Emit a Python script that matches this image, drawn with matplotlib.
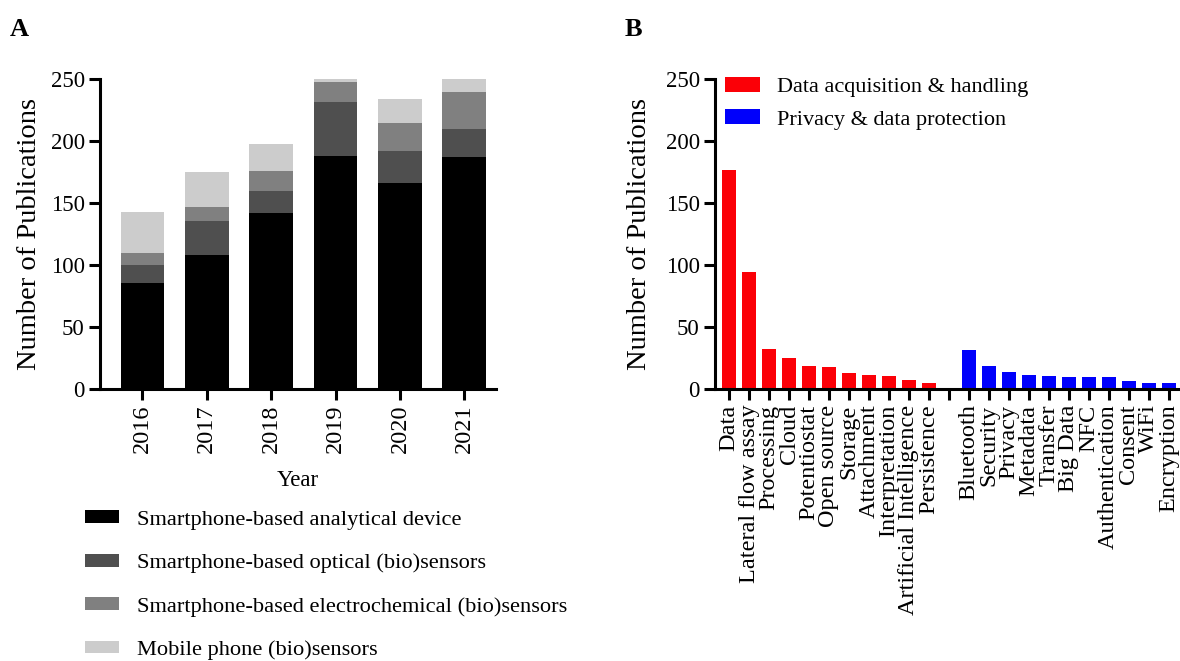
import matplotlib
matplotlib.use("Agg")
import matplotlib.pyplot as plt
from matplotlib.patches import Patch
import numpy as np

plt.rcParams['font.family'] = ['Liberation Serif', 'DejaVu Serif']

# Panel A data: stacked publications per year
years = ["2016", "2017", "2018", "2019", "2020", "2021"]
analytical = [86, 108, 142, 188, 166, 187]
optical = [14, 28, 18, 44, 26, 23]
electrochem = [10, 11, 16, 16, 23, 30]
mobile = [33, 28, 22, 2, 19, 10]
series_names = ["Smartphone-based analytical device",
                "Smartphone-based optical (bio)sensors",
                "Smartphone-based electrochemical (bio)sensors",
                "Mobile phone (bio)sensors"]

# Panel B data: keyword counts
data_terms = ["Data", "Lateral flow assay", "Processing", "Cloud", "Potentiostat",
              "Open source", "Storage", "Attachment", "Interpretation",
              "Artificial Intelligence", "Persistence"]
data_counts = [177, 94.5, 32.5, 25.3, 18.8, 18, 13, 11.5, 10.7, 7.5, 5]
privacy_terms = ["Bluetooth", "Security", "Privacy", "Metadata", "Transfer",
                 "Big Data", "NFC", "Authentication", "Consent", "WiFi", "Encryption"]
privacy_counts = [31.7, 18.8, 14, 11.5, 10.7, 10, 10, 10, 6.7, 5, 5]

grey_colors = ["#000000", "#4f4f4f", "#808080", "#cccccc"]

fig = plt.figure(figsize=(11.8, 6.61), dpi=100)

def style_axis(ax):
    for side in ["top", "right"]:
        ax.spines[side].set_visible(False)
    for side in ["left", "bottom"]:
        ax.spines[side].set_linewidth(2.2)
    ax.tick_params(axis="both", width=2.2, length=8, labelsize=16.5, pad=3)
    ax.tick_params(axis="x", labelsize=17.5)
    ax.set_ylim(0, 250)
    ax.set_yticks(np.arange(0, 251, 50))

# ---- Panel A ----
axA = fig.add_axes([0.0847, 0.411, 0.336, 0.469])
x = np.arange(len(years))
bottom = np.zeros(len(years))
for vals, col in zip([analytical, optical, electrochem, mobile], grey_colors):
    axA.bar(x, vals, width=0.68, bottom=bottom, color=col, linewidth=0)
    bottom += np.array(vals)
style_axis(axA)
axA.set_xlim(-0.66, 5.5)
axA.set_xticks(x)
axA.set_xticklabels(years, rotation=90)
axA.set_xlabel("Year", fontsize=16.5, labelpad=12)
axA.set_ylabel("Number of Publications", fontsize=20.5, labelpad=6)

handlesA = [Patch(facecolor=c, edgecolor="none") for c in grey_colors]
fig.legend(handlesA, series_names, loc="upper left", bbox_to_anchor=(0.072, 0.228),
           frameon=False, fontsize=16.1, handlelength=1.52, handleheight=0.51,
           handletextpad=0.8, labelspacing=1.06, borderaxespad=0, borderpad=0)

# ---- Panel B ----
axB = fig.add_axes([0.606, 0.411, 0.392, 0.469])
all_terms = data_terms + [""] + privacy_terms
nb = len(all_terms)
xb = np.arange(nb)
xr = xb[:len(data_terms)]
xbl = xb[len(data_terms) + 1:]
axB.bar(xr, data_counts, width=0.7, color="#fb0007", linewidth=0,
        label="Data acquisition & handling")
axB.bar(xbl, privacy_counts, width=0.7, color="#0000fb", linewidth=0,
        label="Privacy & data protection")
style_axis(axB)
axB.set_xlim(-0.7, nb - 0.55)
axB.set_xticks(xb)
axB.set_xticklabels(all_terms, rotation=90)
axB.set_ylabel("Number of Publications", fontsize=20.5, labelpad=10)
axB.legend(loc="upper left", bbox_to_anchor=(0.022, 1.008), frameon=False,
           fontsize=16, handlelength=1.55, handleheight=0.65, handletextpad=0.8,
           labelspacing=0.55, borderaxespad=0, borderpad=0)

fig.text(0.008, 0.955, "A", fontsize=19, fontweight="bold", va="center")
fig.text(0.529, 0.955, "B", fontsize=19, fontweight="bold", va="center")

fig.savefig("out.png", dpi=100)
